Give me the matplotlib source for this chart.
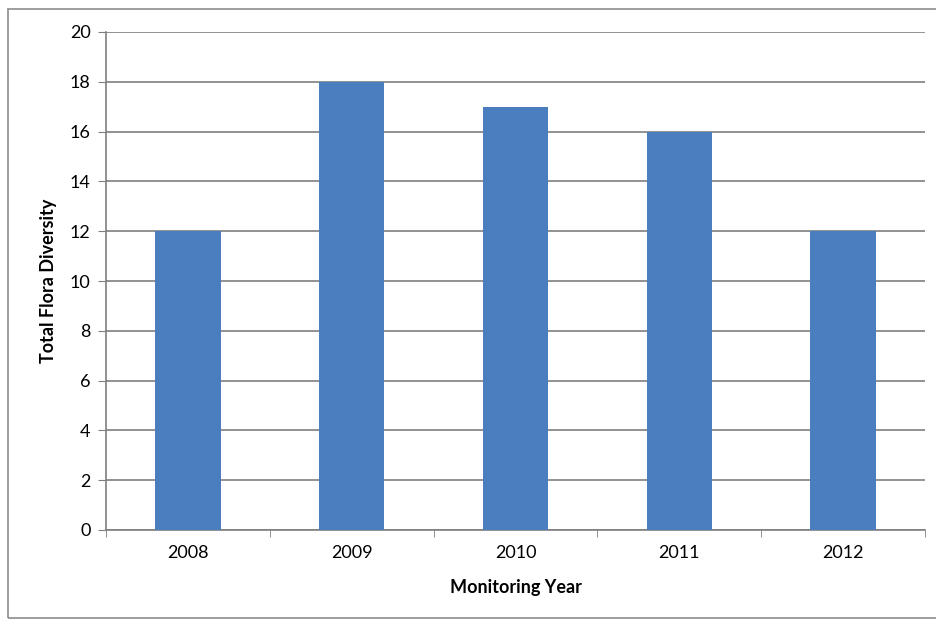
import matplotlib.pyplot as plt
from matplotlib.patches import Rectangle

years = ["2008", "2009", "2010", "2011", "2012"]
diversity = [12, 18, 17, 16, 12]
y_ticks = [0, 2, 4, 6, 8, 10, 12, 14, 16, 18, 20]

plt.rcParams['font.family'] = ['Lato', 'DejaVu Sans']

fig = plt.figure(figsize=(9.36, 6.21), dpi=100)
ax = fig.add_axes([106 / 936, 1 - 530 / 621, (925 - 106) / 936, (530 - 32) / 621])

# outer chart frame
fig.patches.append(Rectangle((8 / 936, 3 / 621), 1.2, 1 - 12 / 621, transform=fig.transFigure,
                             fill=False, edgecolor="#8c8c8c", linewidth=1.2))

pos = range(len(years))
ax.bar(pos, diversity, width=0.4, color="#4a7ebf", zorder=3)

ax.set_xlim(-0.5, len(years) - 0.5)
ax.set_ylim(0, 20)
ax.set_yticks(y_ticks)
ax.set_xticks(list(pos))
ax.set_xticklabels(years)
ax.set_xticks([i + 0.5 for i in range(-1, len(years))], minor=True)

ax.grid(axis="y", color="#7f7f7f", linewidth=1.2, zorder=0)
for s in ["top", "right"]:
    ax.spines[s].set_visible(False)
for s in ["left", "bottom"]:
    ax.spines[s].set_color("#7f7f7f")
    ax.spines[s].set_linewidth(1.2)

ax.tick_params(axis="y", length=6, color="#7f7f7f", labelsize=13, pad=5)
ax.tick_params(axis="x", which="major", length=0, labelsize=13, pad=11)
ax.tick_params(axis="x", which="minor", length=5, color="#7f7f7f")

ax.set_ylabel("Total Flora Diversity", fontsize=13, fontweight="bold", labelpad=9)
ax.set_xlabel("Monitoring Year", fontsize=13, fontweight="bold", labelpad=13)

fig.savefig("out.png", dpi=100)
